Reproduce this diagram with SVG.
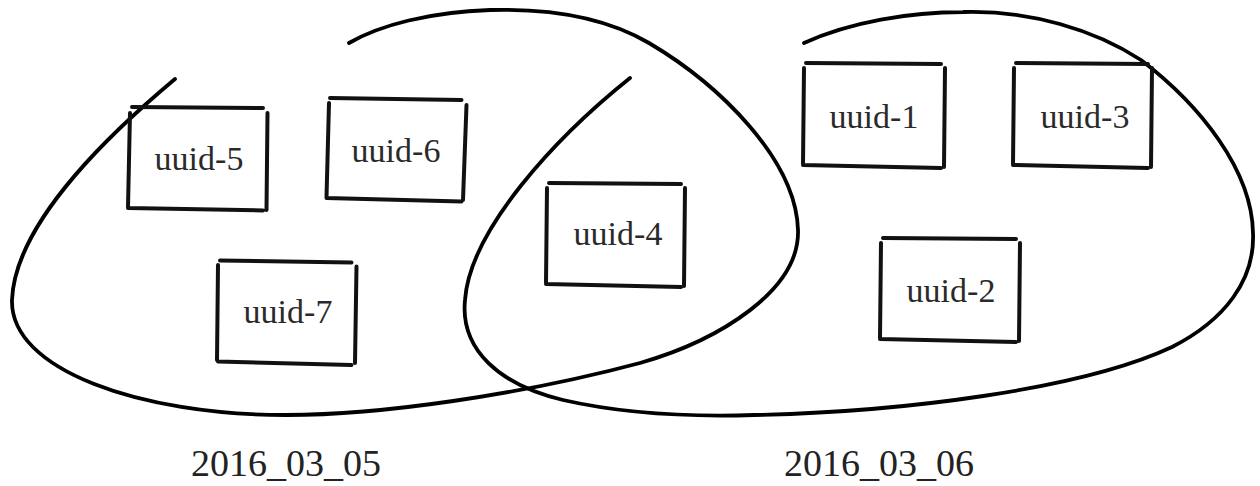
<svg xmlns="http://www.w3.org/2000/svg" width="1260" height="486" viewBox="0 0 1260 486">
<style>
.loop{fill:none;stroke:#000;stroke-width:3.8;stroke-linecap:round;stroke-linejoin:round}
.box{fill:none;stroke:#111;stroke-width:4;stroke-linecap:round}
</style>
<rect width="1260" height="486" fill="#fff"/>
<g id="connectors">
<path id="loop-2016_03_05" class="loop" d="M175,79 C120,125 15,220 12,300 C10,370 140,415 286,415 C380,415 520,395 640,363 C720,340 800,290 798,230 C796,160 720,85 649,43 C610,20 560,8 490,10 C430,12 380,25 349,43"/>
<path id="loop-2016_03_06" class="loop" d="M630,78 C555,138 470,230 465,300 C460,350 500,385 563,400 C620,413 690,417 754,415 C900,412 1080,390 1172,347 C1225,320 1255,280 1253,233 C1252,170 1200,105 1141,60 C1095,30 1030,10 963,12 C910,12 850,22 804,43"/>
</g>
<g font-family="Liberation Serif, DejaVu Serif, serif" font-size="34" fill="#2a2a2a" text-anchor="middle">
<g id="uuid-5">
<path class="box" d="M132,107 L263,108 M267.5,113 L266.5,210 M128,208 L263,210.5 M130,113 L128,207"/>
<text x="199" y="170">uuid-5</text>
</g>
<g id="uuid-6">
<path class="box" d="M330,98 L461.5,100 M466.5,105 L463,200 M326.5,198 L461.5,201.5 M329,103 L326.5,197"/>
<text x="396" y="162">uuid-6</text>
</g>
<g id="uuid-7">
<path class="box" d="M220,260.5 L351.5,262.5 M356.5,266.5 L355,363 M218,361.5 L351.5,365 M218,265 L217,360"/>
<text x="288" y="323">uuid-7</text>
</g>
<g id="uuid-4">
<path class="box" d="M549,183 L681,184 M685,188 L684,286 M546,284 L681,287 M547,188 L546,283"/>
<text x="618" y="245">uuid-4</text>
</g>
<g id="uuid-1">
<path class="box" d="M806,63 L941,64 M945,68 L944,167 M803,165 L941,168 M804,68 L803,164"/>
<text x="874" y="128">uuid-1</text>
</g>
<g id="uuid-3">
<path class="box" d="M1016,63 L1148,64 M1152,68 L1151,167 M1013,165 L1148,168 M1014,68 L1013,164"/>
<text x="1085" y="128">uuid-3</text>
</g>
<g id="uuid-2">
<path class="box" d="M883,238 L1016,239 M1020,243 L1019,341 M880,339 L1016,342 M881,243 L880,338"/>
<text x="951" y="302">uuid-2</text>
</g>
</g>
<g id="captions" font-family="Liberation Serif, DejaVu Serif, serif" font-size="38" fill="#222" text-anchor="middle">
<text x="286" y="476">2016_03_05</text>
<text x="879" y="476">2016_03_06</text>
</g>
</svg>
